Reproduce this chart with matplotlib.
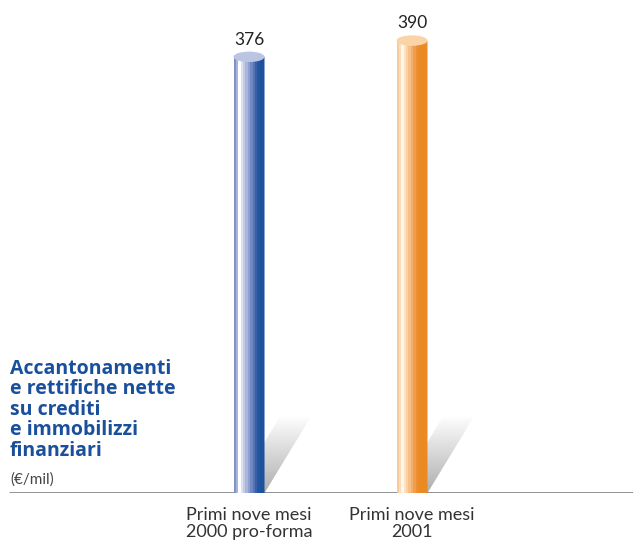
import numpy as np
import matplotlib
matplotlib.use("Agg")
import matplotlib.pyplot as plt
from matplotlib.path import Path
from matplotlib.patches import PathPatch, Ellipse, Polygon

# Data
categories = ["Primi nove mesi\n2000 pro-forma", "Primi nove mesi\n2001"]
values = [376, 390]
value_labels = ["376", "390"]

# Cylinder shading bands, left to right
blue_bands = ["#7F93C9", "#A7B4DB", "#FFFFFF", "#DCE1F1", "#C3CBE6", "#A9B6DC",
              "#8FA0D0", "#7189C3", "#5473B5", "#3762A9", "#2256A1", "#1D519C", "#1D519C"]
orange_bands = ["#F8CB9C", "#FBDDBC", "#FFF6EC", "#FCE3C6", "#F9D2A6", "#F7C089",
                "#F4AE69", "#F09D4C", "#ED9035", "#EB8A26", "#EA8A22", "#EA8A22", "#EA8A22"]
cap_colors = ["#BAC5E3", "#FAD3A8"]
band_sets = [blue_bands, orange_bands]

fig = plt.figure(figsize=(6.33, 5.44), dpi=100)
ax = fig.add_axes([0, 51 / 544, 1, 493 / 544])
ax.set_xlim(-1.528, 2.356)
ax.set_ylim(0, 425)
ax.axis("off")

width = 0.19
cap_h = 9.0          # ellipse height in value units
shadow_h = 67
shadow_dx = 0.29

xs = np.arange(len(values))

for x, v, bands, cap in zip(xs, values, band_sets, cap_colors):
    left, right = x - width / 2, x + width / 2

    # slanted shadow behind the cylinder
    sh_poly = Polygon([(left, 0), (right, 0), (right + shadow_dx, shadow_h),
                       (left + shadow_dx, shadow_h)], closed=True,
                      facecolor="none", edgecolor="none")
    ax.add_patch(sh_poly)
    grad = np.linspace(0.68, 1.0, 256).reshape(-1, 1)
    im = ax.imshow(grad, cmap="gray", vmin=0, vmax=1, origin="lower",
                   extent=[left, right + shadow_dx, 0, shadow_h],
                   aspect="auto", zorder=1, interpolation="bilinear")
    im.set_clip_path(sh_poly)

    # body outline: rectangle with rounded (elliptical) bottom
    t = np.linspace(np.pi, 2 * np.pi, 40)
    bottom = np.column_stack([x + width / 2 * np.cos(t), cap_h / 2 * np.sin(t)])
    verts = np.vstack([bottom, [[right, v], [left, v], [left, 0]]])
    body = PathPatch(Path(verts), facecolor="none", edgecolor="none")
    ax.add_patch(body)

    n = len(bands)
    bw = width / n
    starts = left + np.arange(n) * bw
    bars = ax.bar(starts, v + cap_h, width=bw * 1.02, bottom=-cap_h,
                  align="edge", color=bands, linewidth=0, zorder=3)
    for b in bars:
        b.set_clip_path(body)

    ax.add_patch(Ellipse((x, v), width, cap_h, facecolor=cap,
                         edgecolor="none", zorder=4))

for x, v, lab in zip(xs, values, value_labels):
    ax.text(x, v + 8, lab, ha="center", va="bottom", fontsize=12.5,
            family="Lato", color="#222222")

# baseline
ax.plot([-1.475, 2.356], [0, 0], color="#888888", lw=2, zorder=2,
        solid_capstyle="butt")

for x, lab in zip(xs, categories):
    ax.text(x, -12, lab, ha="center", va="top", fontsize=13, family="Lato",
            color="#333333", linespacing=1.1)

fig.text(10 / 633, 1 - 359 / 544,
         "Accantonamenti\ne rettifiche nette\nsu crediti\ne immobilizzi\nfinanziari",
         ha="left", va="top", fontsize=14, fontweight="bold", family="Open Sans",
         color="#1A4F9C", linespacing=1.03)
fig.text(10 / 633, 1 - 484 / 544, "(€/mil)", ha="left", va="baseline",
         fontsize=11, family="Lato", color="#444444")

fig.savefig("out.png", dpi=100)
